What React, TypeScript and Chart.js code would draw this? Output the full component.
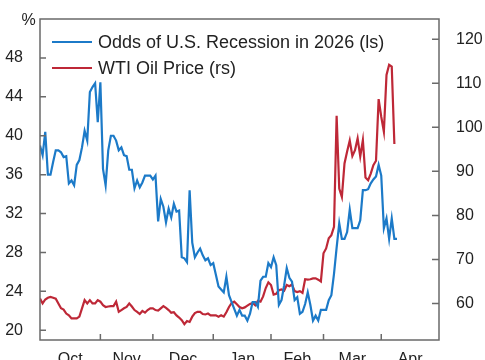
import React, { useEffect, useRef } from "react";
import { Chart, registerables } from "chart.js";

Chart.register(...registerables);

// Month labels and business-day index of each month boundary (Oct 1 2025 = 0)
const monthLabels = ["Oct", "Nov", "Dec", "Jan", "Feb", "Mar", "Apr"];
const monthStarts = [0, 23, 43, 66, 88, 108, 130, 152];
const leftTicks = [20, 24, 28, 32, 36, 40, 44, 48];
const rightTicks = [60, 70, 80, 90, 100, 110, 120];
const leftUnit = "%";

const seriesNames = ["Odds of U.S. Recession in 2026 (ls)", "WTI Oil Price (rs)"];

// Odds of U.S. recession in 2026, %, one value per business day from Oct 1
const oddsValues = [
  39.0, 38.0, 40.4, 36.0, 36.0, 37.3, 38.5, 38.5, 38.3, 37.8,
  37.9, 35.1, 35.4, 34.9, 37.0, 37.5, 38.8, 40.5, 39.5, 44.5,
  45.0, 45.4, 41.4, 45.5, 36.6, 34.9, 38.5, 40.0, 40.0, 39.5,
  38.5, 38.8, 38.0, 37.9, 36.5, 36.5, 34.6, 35.4, 34.7, 35.2,
  35.9, 35.9, 35.9, 35.5, 35.9, 31.2, 33.5, 32.7, 31.1, 32.5,
  31.6, 33.0, 32.2, 32.3, 27.5, 27.4, 27.0, 34.4, 29.0, 27.5,
  28.0, 28.4, 27.7, 27.2, 27.4, 26.7, 26.9, 25.7, 24.5, 24.2,
  23.9, 25.5, 23.6, 22.9, 22.2, 21.5, 22.1, 21.5, 21.5, 21.0,
  21.7, 22.9, 22.9, 22.4, 25.1, 25.5, 25.5, 26.9, 26.5, 27.5,
  26.7, 22.6, 23.1, 24.6, 26.4, 25.4, 25.0, 23.1, 23.4, 21.7,
  21.9, 22.7, 23.9, 22.6, 21.0, 21.5, 21.0, 22.1, 22.1, 22.1,
  23.1, 23.6, 25.8, 28.5, 31.0, 29.4, 29.4, 30.1, 32.4, 30.5,
  30.5, 30.5, 31.3, 34.4, 34.4, 34.5, 35.1, 35.5, 35.8, 37.0,
  35.9, 30.5, 31.5, 29.4, 31.5, 29.4, 29.4
];

// WTI oil price, $/bbl, one value per business day from Oct 1
const oilValues = [
  61.1, 60.0, 60.9, 61.3, 61.5, 61.3, 61.1, 60.0, 58.9, 58.6,
  57.7, 57.3, 56.6, 56.6, 56.6, 57.0, 58.9, 60.75, 60.0, 60.75,
  60.0, 60.0, 60.75, 60.4, 59.6, 59.2, 59.3, 59.4, 59.4, 60.4,
  58.1, 58.5, 58.9, 59.2, 60.0, 59.3, 58.5, 58.1, 57.6, 58.3,
  57.9, 58.5, 58.9, 58.9, 58.5, 58.4, 58.9, 59.4, 59.0, 58.5,
  57.9, 58.0, 57.3, 56.8, 56.2, 55.3, 56.0, 55.8, 57.0, 57.8,
  58.1, 58.1, 57.6, 57.5, 57.7, 57.3, 57.3, 57.3, 57.0, 57.3,
  57.0, 58.0, 59.2, 60.1, 60.4, 59.8, 59.2, 58.9, 59.1, 59.5,
  59.9, 60.1, 59.6, 60.6, 60.4, 61.6, 63.5, 64.8, 64.2, 62.0,
  62.2, 63.0, 63.2, 62.9, 64.2, 63.9, 64.3, 62.8, 62.6, 62.8,
  62.4, 65.5, 65.4, 65.5, 65.7, 65.7, 65.4, 65.0, 71.4, 72.5,
  74.8, 75.5, 77.4, 102.6, 86.1, 84.2, 91.8, 94.5, 97.0, 93.5,
  94.8, 97.5, 93.4, 97.1, 88.6, 88.0, 89.5, 91.4, 92.4, 106.4,
  102.4, 99.0, 111.9, 114.2, 113.8, 96.2
];

const BLUE = "rgb(28,122,200)";
const RED = "rgb(190,40,55)";
const AXIS = "#6a6a6a";
const TEXT = "#222222";
const FONT = "'Liberation Sans', Arial, sans-serif";

const frameAndTicks = {
  id: "frameAndTicks",
  afterDraw(chart: any) {
    const { ctx, chartArea } = chart;
    const { left, right, top, bottom } = chartArea;
    const yl = chart.scales.y;
    const yr = chart.scales.y2;
    const x = chart.scales.x;
    ctx.save();
    ctx.strokeStyle = AXIS;
    ctx.lineWidth = 1.5;
    ctx.beginPath();
    ctx.rect(left, top, right - left, bottom - top);
    ctx.stroke();
    ctx.beginPath();
    leftTicks.forEach((v) => {
      const py = yl.getPixelForValue(v);
      ctx.moveTo(left, py);
      ctx.lineTo(left + 6, py);
    });
    rightTicks.forEach((v) => {
      const py = yr.getPixelForValue(v);
      ctx.moveTo(right, py);
      ctx.lineTo(right - 7, py);
    });
    monthStarts.forEach((v) => {
      if (v <= x.min || v >= x.max) return;
      const px = x.getPixelForValue(v);
      ctx.moveTo(px, bottom);
      ctx.lineTo(px, bottom - 6);
    });
    ctx.stroke();
    // unit label above the left axis
    ctx.fillStyle = TEXT;
    ctx.font = `16px ${FONT}`;
    ctx.textAlign = "center";
    ctx.textBaseline = "middle";
    ctx.fillText(leftUnit, left - 11.5, top + 2);
    ctx.restore();
  },
};

const innerLegend = {
  id: "innerLegend",
  afterDraw(chart: any) {
    const { ctx, chartArea } = chart;
    ctx.save();
    ctx.font = `18px ${FONT}`;
    ctx.textBaseline = "middle";
    ctx.textAlign = "left";
    chart.data.datasets.forEach((ds: any, i: number) => {
      const y = chartArea.top + 23 + i * 26;
      const x0 = chartArea.left + 12;
      ctx.strokeStyle = ds.borderColor;
      ctx.lineWidth = 2;
      ctx.beginPath();
      ctx.moveTo(x0, y);
      ctx.lineTo(x0 + 40, y);
      ctx.stroke();
      ctx.fillStyle = TEXT;
      ctx.fillText(ds.label, x0 + 46, y + 1);
    });
    ctx.restore();
  },
};

export default function App() {
  const ref = useRef<HTMLCanvasElement | null>(null);

  useEffect(() => {
    if (!ref.current) return;
    const monthMid = monthLabels.map((_, i) => (monthStarts[i] + monthStarts[i + 1]) / 2);
    const chart = new Chart(ref.current, {
      type: "line",
      data: {
        datasets: [
          {
            label: seriesNames[0],
            data: oddsValues.map((v, i) => ({ x: i, y: v })),
            borderColor: BLUE,
            backgroundColor: BLUE,
            borderWidth: 2.2,
            pointRadius: 0,
            tension: 0,
            yAxisID: "y",
          },
          {
            label: seriesNames[1],
            data: oilValues.map((v, i) => ({ x: i, y: v })),
            borderColor: RED,
            backgroundColor: RED,
            borderWidth: 2.2,
            pointRadius: 0,
            tension: 0,
            yAxisID: "y2",
          },
        ],
      },
      options: {
        animation: false,
        responsive: true,
        maintainAspectRatio: false,
        layout: { padding: { top: 19, left: 0, right: 0, bottom: 0 } },
        plugins: { legend: { display: false }, tooltip: { enabled: false } },
        scales: {
          x: {
            type: "linear",
            min: monthStarts[0],
            max: monthStarts[monthStarts.length - 1],
            grid: { display: false },
            border: { display: false },
            afterBuildTicks: (s: any) => {
              s.ticks = monthMid.map((v) => ({ value: v }));
            },
            afterFit: (s: any) => {
              s.height = 20;
            },
            ticks: {
              autoSkip: false,
              maxRotation: 0,
              padding: 2,
              color: TEXT,
              font: { family: FONT, size: 16 },
              callback: (_v: any, idx: number) => monthLabels[idx],
            },
          },
          y: {
            position: "left",
            min: 19,
            max: 52,
            grid: { display: false },
            border: { display: false },
            afterBuildTicks: (s: any) => {
              s.ticks = leftTicks.map((v) => ({ value: v }));
            },
            afterFit: (s: any) => {
              s.width = 40;
            },
            ticks: {
              padding: 9,
              color: TEXT,
              font: { family: FONT, size: 16 },
              callback: (v: any) => String(v),
            },
          },
          y2: {
            position: "right",
            min: 51.7,
            max: 124.6,
            grid: { display: false },
            border: { display: false },
            afterBuildTicks: (s: any) => {
              s.ticks = rightTicks.map((v) => ({ value: v }));
            },
            afterFit: (s: any) => {
              s.width = 46;
            },
            ticks: {
              padding: 9,
              color: TEXT,
              font: { family: FONT, size: 16 },
              callback: (v: any) => String(v),
            },
          },
        },
      },
      plugins: [frameAndTicks, innerLegend],
    });
    return () => chart.destroy();
  }, []);

  return (
    <div style={{ position: "absolute", left: 0, top: 0, width: 485, height: 360, background: "#fff" }}>
      <canvas ref={ref} />
    </div>
  );
}
